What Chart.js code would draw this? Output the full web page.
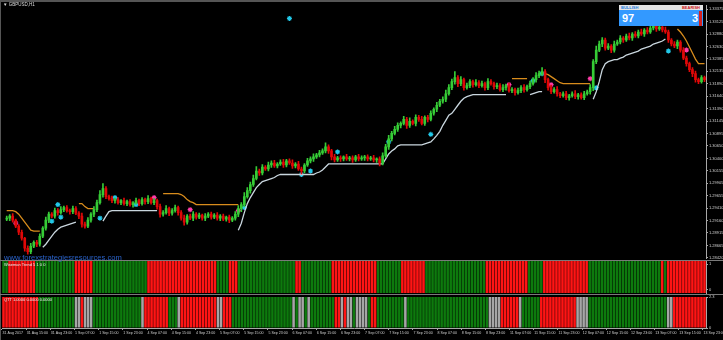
<!DOCTYPE html>
<html>
<head>
<meta charset="utf-8">
<title>GBPUSD,H1</title>
<script src="https://cdn.jsdelivr.net/npm/chart.js@4.4.1/dist/chart.umd.min.js"></script>
<style>
  html, body { margin: 0; padding: 0; background: #000; }
  #wrap { position: relative; width: 723px; height: 340px; overflow: hidden; background: #000; }
  canvas { position: absolute; left: 0; }
  .sep { position: absolute; left: 0; width: 723px; height: 1px; background: #7a7a7a; }
  .txt { position: absolute; font-family: "Liberation Sans", Arial, sans-serif; white-space: nowrap; }
  #panel { position: absolute; left: 619px; top: 5px; width: 84px; height: 21px; font-family: "Liberation Sans", Arial, sans-serif; }
  #panel .top { height: 5px; background: #e4e4e4; position: relative; font-size: 4px; font-weight: bold; line-height: 5px; }
  #panel .bot { height: 16px; background: #3399ff; position: relative; color: #fff; font-weight: bold; font-size: 11px; line-height: 16px; }
</style>
</head>
<body>
<div id="wrap">
  <canvas id="pane1" width="723" height="38" style="top:259px"></canvas>
  <canvas id="pane2" width="723" height="46" style="top:294px"></canvas>
  <canvas id="main" width="723" height="264" style="top:0px"></canvas>

  <div style="position:absolute;left:0;top:0;width:723px;height:2px;background:#555"></div>
  <div style="position:absolute;left:0;top:0;width:1px;height:340px;background:#555"></div>
  <div class="sep" style="top:260px"></div>
  <div class="sep" style="top:294px"></div>

  <div class="txt" style="left:3px;top:2px;font-size:4.5px;color:#ddd">&#9660; GBPUSD,H1</div>
  <div class="txt" style="left:4px;top:253px;font-size:7.6px;color:#2a62c8">www.forexstrategiesresources.com</div>
  <div class="txt" style="left:4px;top:262px;font-size:4px;color:#eee">Wiseman Trend 5 1 0 0</div>
  <div class="txt" style="left:4px;top:297px;font-size:4px;color:#eee">QTT 1.0000 0.0000 0.0000</div>

  <div id="panel">
    <div class="top">
      <span style="position:absolute;left:2px;color:#1e7fe0">BULLISH</span>
      <span style="position:absolute;right:3px;color:#d01818">BEARISH</span>
    </div>
    <div class="bot">
      <span style="position:absolute;left:3px">97</span>
      <span style="position:absolute;right:5px">3</span>
      <span style="position:absolute;right:1px;top:1px;width:3px;height:15px;background:#d42020"></span>
    </div>
  </div>
</div>

<script>
// GBPUSD H1, prices kept as pips above BASE (price = BASE + pips / 10000)
const BASE = 1.28;

// time axis, one label every 8 bars
const timeLabels = [
  '31 Aug 2017', '31 Aug 15:00', '31 Aug 23:00', '1 Sep 07:00', '1 Sep 15:00', '1 Sep 23:00',
  '4 Sep 07:00', '4 Sep 15:00', '4 Sep 23:00', '5 Sep 07:00', '5 Sep 15:00', '5 Sep 23:00',
  '6 Sep 07:00', '6 Sep 15:00', '6 Sep 23:00', '7 Sep 07:00', '7 Sep 15:00', '7 Sep 23:00',
  '8 Sep 07:00', '8 Sep 15:00', '8 Sep 23:00', '11 Sep 07:00', '11 Sep 15:00', '11 Sep 23:00',
  '12 Sep 07:00', '12 Sep 15:00', '12 Sep 23:00', '13 Sep 07:00', '13 Sep 15:00', '13 Sep 23:00'
];

// price axis labels
const priceTicks = [1.33375, 1.33125, 1.32880, 1.32630, 1.32385, 1.32135, 1.31890, 1.31640, 1.31390,
  1.31145, 1.30895, 1.30650, 1.30400, 1.30155, 1.29905, 1.29655, 1.29410, 1.29160, 1.28915, 1.28665, 1.28420];

// candles: close per bar, open of a bar = previous close
const firstOpen = 119;
const closes = [
  121, 125, 117, 105, 93, 81, 61, 54, 65, 73,
  69, 85, 101, 117, 129, 125, 136, 132, 138, 142,
  136, 134, 140, 131, 125, 109, 105, 117, 129, 138,
  152, 168, 180, 164, 160, 156, 158, 152, 156, 150,
  154, 148, 152, 156, 150, 158, 154, 160, 152, 156,
  144, 129, 132, 140, 131, 136, 142, 132, 121, 113,
  125, 121, 129, 123, 127, 121, 125, 129, 123, 127,
  121, 125, 119, 123, 117, 121, 129, 140, 148, 164,
  176, 188, 200, 215, 211, 223, 219, 227, 231, 225,
  229, 233, 227, 235, 231, 225, 229, 219, 215, 227,
  235, 239, 243, 247, 251, 255, 263, 255, 243, 237,
  241, 239, 243, 239, 241, 237, 243, 239, 241, 243,
  239, 241, 237, 239, 231, 245, 263, 279, 290, 298,
  306, 310, 318, 306, 314, 310, 322, 318, 310, 322,
  318, 330, 338, 346, 354, 358, 369, 381, 393, 401,
  389, 397, 381, 385, 393, 387, 391, 385, 389, 381,
  393, 389, 383, 385, 377, 381, 385, 375, 377, 371,
  375, 381, 377, 383, 389, 397, 405, 409, 413, 397,
  381, 373, 377, 369, 365, 369, 361, 365, 369, 363,
  367, 361, 369, 373, 381, 433, 456, 468, 476, 460,
  464, 456, 468, 472, 480, 476, 484, 480, 488, 484,
  492, 488, 496, 492, 500, 504, 498, 502, 496, 492,
  476, 468, 464, 472, 456, 440, 429, 417, 409, 397,
  393, 401, 397
];
const upWick = [
  4, 3, 5, 2, 3, 4, 2, 5, 6, 3,  4, 5, 3, 6, 4, 3, 5, 4, 6, 3,  4, 3, 5, 4, 3, 6, 4, 5, 3, 6,
  5, 8, 10, 4, 3, 5, 3, 4, 2, 5,  3, 4, 2, 5, 3, 4, 3, 6, 3, 4,  3, 5, 4, 6, 3, 4, 5, 3, 4, 6,
  3, 4, 5, 3, 4, 2, 5, 3, 4, 3,  5, 3, 4, 2, 4, 3, 5, 6, 4, 8,  6, 5, 7, 9, 4, 5, 3, 6, 4, 5,
  3, 4, 5, 3, 4, 6, 3, 5, 4, 3,  5, 4, 6, 3, 5, 4, 8, 4, 3, 5,  3, 4, 2, 5, 3, 4, 3, 5, 4, 3,
  4, 3, 5, 2, 4, 6, 5, 7, 4, 6,  5, 3, 6, 4, 7, 3, 5, 4, 6, 3,  4, 5, 3, 6, 4, 5, 7, 6, 5, 12,
  4, 6, 3, 5, 4, 3, 6, 4, 5, 3,  6, 4, 3, 5, 4, 6, 3, 5, 4, 3,  5, 4, 6, 3, 5, 4, 6, 5, 8, 4,
  3, 5, 4, 6, 3, 4, 5, 3, 4, 6,  3, 4, 5, 3, 6, 4, 8, 6, 5, 4,  5, 3, 6, 4, 5, 3, 4, 6, 3, 5,
  4, 6, 3, 5, 4, 6, 3, 4, 5, 6,  4, 3, 5, 4, 3, 5, 4, 3, 4, 5,  3, 4, 3
];
const downWick = [
  3, 5, 4, 3, 5, 4, 6, 5, 4, 3,  5, 4, 3, 4, 5, 3, 4, 5, 3, 4,  3, 5, 4, 3, 5, 6, 4, 3, 4, 5,
  4, 3, 5, 4, 3, 4, 5, 3, 4, 3,  4, 3, 5, 3, 4, 3, 5, 4, 3, 4,  5, 6, 4, 3, 5, 4, 3, 5, 4, 6,
  4, 3, 5, 4, 3, 4, 5, 3, 4, 3,  4, 5, 3, 4, 5, 3, 4, 5, 6, 4,  3, 5, 4, 3, 5, 4, 3, 4, 5, 3,
  4, 3, 5, 4, 3, 5, 4, 3, 6, 4,  3, 4, 5, 3, 4, 3, 4, 5, 6, 4,  3, 5, 4, 3, 4, 5, 3, 4, 3, 5,
  4, 3, 4, 5, 6, 4, 3, 5, 4, 3,  4, 5, 3, 6, 4, 3, 5, 4, 3, 4,  5, 3, 4, 5, 3, 4, 5, 3, 4, 5,
  6, 4, 5, 3, 4, 5, 3, 4, 3, 5,  4, 3, 5, 4, 3, 4, 5, 3, 4, 5,  3, 4, 5, 3, 4, 3, 5, 4, 3, 6,
  5, 4, 3, 5, 4, 3, 4, 5, 3, 4,  5, 3, 4, 3, 5, 6, 4, 3, 5, 4,  3, 5, 4, 3, 4, 5, 3, 4, 5, 3,
  4, 3, 5, 4, 3, 4, 5, 3, 4, 3,  5, 4, 3, 5, 4, 3, 5, 4, 6, 5,  4, 3, 4
];

// trailing stop lines, [first bar, values...]
const upperStopSegs = [
  [0, [136, 136, 136, 134, 129, 121, 113, 105, 97, 95, 95, 95]],
  [24, [150, 150, 144, 140, 140, 140]],
  [52, [170, 170, 170, 170, 170, 170, 168, 164, 158, 154, 152, 148, 148, 148, 148, 148, 148, 148, 148, 148, 148, 148, 148, 148, 148, 148]],
  [168, [399, 399, 399, 399, 399, 399]],
  [179, [409, 407, 403, 399, 395, 391, 389, 389, 389, 389, 389, 389, 389, 389, 389, 389]],
  [223, [498, 492, 484, 474, 462, 450, 438, 429, 429, 429]]
];
const lowerStopSegs = [
  [12, [63, 69, 77, 85, 93, 99, 103, 105, 107, 109, 111, 113]],
  [32, [115, 125, 134, 136, 136, 136, 136, 136, 136, 136, 136, 136, 136, 136, 136, 136, 136, 136, 136]],
  [77, [97, 111, 132, 150, 162, 172, 182, 188, 194, 196, 198, 200, 202, 206,
        208, 208, 208, 208, 208, 208, 208, 208, 208, 208, 208, 208,
        211, 213, 217, 223, 229,
        229, 229, 229, 229, 229, 229, 229, 229, 229, 229, 229, 229, 229, 229, 229, 229, 229, 229,
        239, 249, 255, 259, 265, 267, 267, 267, 267, 267, 267, 267, 267,
        269, 271, 273, 279, 286, 294, 306, 316, 326, 330, 338, 346, 354, 360, 363, 365,
        367, 367, 367, 367, 367, 367, 367, 367, 367, 367, 367, 367]],
  [174, [367, 369, 371, 373, 373]],
  [195, [358, 373, 393, 417, 429, 433, 435, 437, 437, 440, 442, 446, 448, 450, 452, 454, 458, 460, 462, 464, 468, 470, 472, 474, 478]]
];

// signal stars [bar, pips]
const buyStars = [[15, 115], [17, 148], [18, 123], [31, 121], [36, 162], [43, 148], [79, 142], [94, 519],
  [98, 208], [101, 215], [110, 253], [127, 273], [141, 288], [175, 395], [178, 409], [196, 381], [220, 454]];
const sellStars = [[3, 111], [49, 162], [61, 138], [77, 136], [167, 387], [181, 387], [194, 399], [226, 456]];

// indicator windows: colour runs [state, bars]
const trendRuns = [['G', 2], ['R', 9], ['G', 13], ['R', 6], ['G', 18], ['R', 23], ['G', 4], ['R', 3], ['G', 19], ['R', 2],
  ['G', 10], ['R', 15], ['G', 8], ['R', 8], ['G', 20], ['R', 14], ['G', 5], ['R', 15], ['G', 24], ['R', 1], ['G', 1], ['R', 13]];
const qttRuns = [['R', 12], ['G', 12], ['X', 2], ['R', 1], ['X', 3], ['G', 16], ['X', 1], ['R', 8], ['G', 3], ['X', 1],
  ['R', 12], ['X', 2], ['R', 3], ['G', 20], ['X', 1], ['G', 1], ['X', 2], ['G', 1], ['X', 1], ['G', 8],
  ['R', 2], ['X', 1], ['R', 1], ['X', 2], ['G', 1], ['X', 4], ['G', 1], ['R', 2], ['G', 9], ['X', 1],
  ['G', 27], ['X', 4], ['R', 6], ['X', 1], ['G', 6], ['R', 12], ['X', 4], ['G', 26], ['X', 2], ['R', 11]];

const UP = '#36cc36';
const DOWN = '#e00808';
const stateColors = { G: '#0d7a0d', R: '#ff1414', X: '#a6a6a6' };
const axisColor = '#a8a8a8';
const tickFont = { family: 'Liberation Sans', size: 4 };

// build labels and per-bar arrays
const nBars = closes.length;
const labels = [];
for (let i = 0; i < nBars; i++) labels.push(i % 8 === 0 ? timeLabels[i / 8] : '');

const opens = closes.map((c, i) => i === 0 ? firstOpen : closes[i - 1]);
const bodies = closes.map((c, i) => [opens[i], c]);
const wicks = closes.map((c, i) => [Math.min(opens[i], c) - downWick[i], Math.max(opens[i], c) + upWick[i]]);
const candleColors = closes.map((c, i) => c >= opens[i] ? UP : DOWN);

function fromSegs(segs) {
  const out = new Array(nBars).fill(null);
  segs.forEach(([start, vals]) => vals.forEach((v, k) => { out[start + k] = v; }));
  return out;
}
function fromPoints(points) {
  const out = new Array(nBars).fill(null);
  points.forEach(([i, v]) => { out[i] = v; });
  return out;
}
function fromRuns(runs) {
  const out = [];
  runs.forEach(([s, n]) => { for (let k = 0; k < n; k++) out.push(stateColors[s]); });
  return out;
}

const rightAxis = (extra) => Object.assign({
  position: 'right',
  afterFit: s => { s.width = 17; s.paddingTop = 0; s.paddingBottom = 0; },
  grid: { drawOnChartArea: false, drawTicks: true, tickLength: 2, color: axisColor },
  border: { display: true, color: axisColor },
  ticks: { font: tickFont, color: '#d0d0d0', padding: 1, autoSkip: false }
}, extra);

const hiddenX = { type: 'category', display: false, offset: true };
const base = {
  responsive: false,
  animation: false,
  events: [],
  plugins: { legend: { display: false }, tooltip: { enabled: false } }
};

// main price window
new Chart(document.getElementById('main'), {
  type: 'bar',
  data: {
    labels: labels,
    datasets: [
      { data: wicks, backgroundColor: candleColors, barThickness: 1, grouped: false },
      { data: bodies, backgroundColor: candleColors, barThickness: 2, grouped: false, minBarLength: 1 },
      { type: 'line', data: fromSegs(upperStopSegs), borderColor: '#d88c1c', borderWidth: 1.3, pointRadius: 0, tension: 0 },
      { type: 'line', data: fromSegs(lowerStopSegs), borderColor: '#c9d6de', borderWidth: 1.3, pointRadius: 0, tension: 0 },
      { type: 'line', data: fromPoints(buyStars), showLine: false, pointStyle: 'star', pointRadius: 2.5,
        borderColor: '#22c8e8', borderWidth: 1.2 },
      { type: 'line', data: fromPoints(sellStars), showLine: false, pointStyle: 'star', pointRadius: 2.5,
        borderColor: '#ff3ca8', borderWidth: 1.2 }
    ]
  },
  options: Object.assign({}, base, {
    layout: { padding: { left: 2, top: 3, bottom: 5, right: 0 } },
    scales: {
      x: hiddenX,
      y: rightAxis({
        min: 40, max: 545.4,
        afterBuildTicks: s => { s.ticks = priceTicks.map(p => ({ value: (p - BASE) * 10000 })); },
        ticks: { font: tickFont, color: '#d0d0d0', padding: 1, autoSkip: false,
          callback: v => (BASE + v / 10000).toFixed(5) }
      })
    }
  })
});

// first indicator window
new Chart(document.getElementById('pane1'), {
  type: 'bar',
  data: {
    labels: labels,
    datasets: [{ data: labels.map(() => [-0.12, 1.12]), backgroundColor: fromRuns(trendRuns),
      categoryPercentage: 1, barPercentage: 0.85 }]
  },
  options: Object.assign({}, base, {
    layout: { padding: { left: 2, top: 2, bottom: 4, right: 0 } },
    scales: {
      x: hiddenX,
      y: rightAxis({
        min: -0.12, max: 1.12,
        afterBuildTicks: s => { s.ticks = [{ value: 1 }, { value: 0 }]; }
      })
    }
  })
});

// second indicator window with the time axis
new Chart(document.getElementById('pane2'), {
  type: 'bar',
  data: {
    labels: labels,
    datasets: [{ data: labels.map(() => [0, 2.3]), backgroundColor: fromRuns(qttRuns),
      categoryPercentage: 1, barPercentage: 0.85 }]
  },
  options: Object.assign({}, base, {
    layout: { padding: { left: 2, top: 3, bottom: 0, right: 0 } },
    scales: {
      x: {
        type: 'category', offset: true,
        afterFit: s => { s.height = 12; s.paddingLeft = 0; s.paddingRight = 0; },
        grid: { drawOnChartArea: false, drawTicks: true, tickLength: 2,
          color: c => (c.index % 8 === 0 ? axisColor : 'rgba(0,0,0,0)') },
        border: { display: true, color: axisColor },
        ticks: { font: { family: 'Liberation Sans', size: 3.6 }, color: '#d0d0d0', autoSkip: false,
          maxRotation: 0, minRotation: 0, align: 'start', padding: 1, labelOffset: -1 }
      },
      y: rightAxis({
        min: 0, max: 2.3,
        afterBuildTicks: s => { s.ticks = [{ value: 2.3 }, { value: 0 }]; }
      })
    }
  })
});
</script>
</body>
</html>
